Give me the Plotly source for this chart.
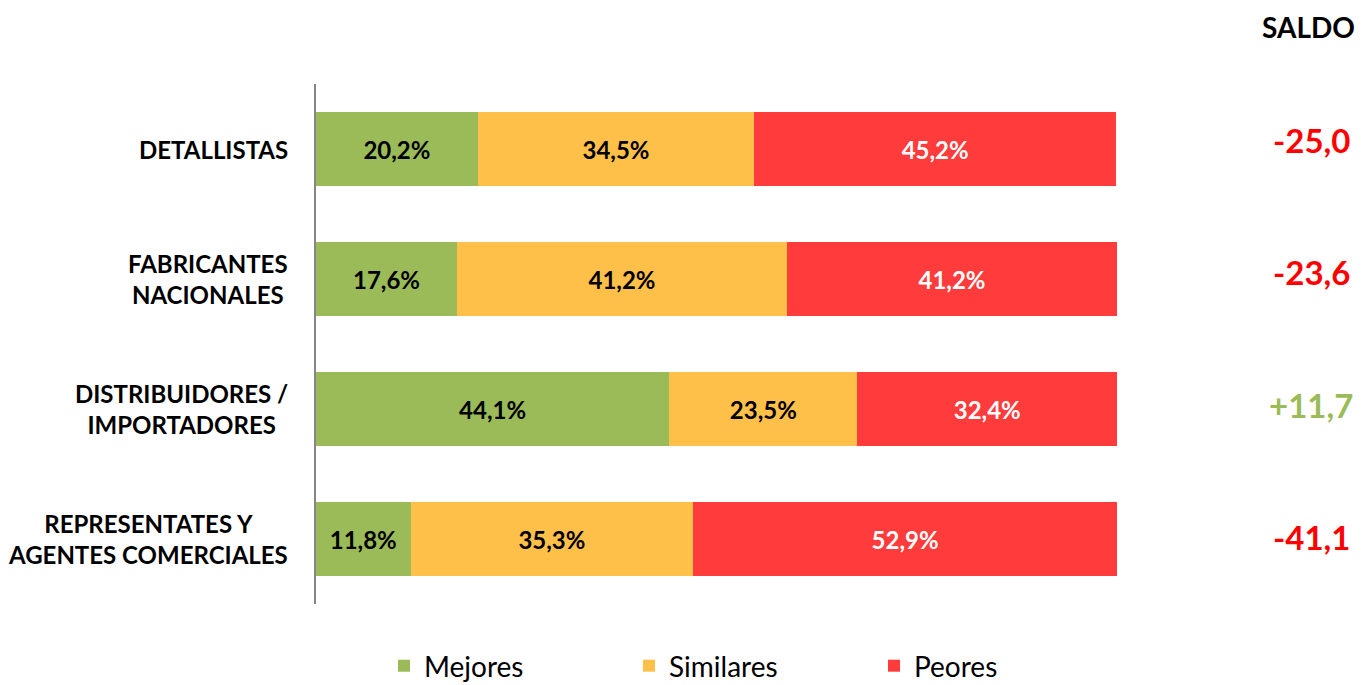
import plotly.graph_objects as go

categories = ["DETALLISTAS", "FABRICANTES<br>NACIONALES", "DISTRIBUIDORES /<br>IMPORTADORES",
              "REPRESENTATES Y<br>AGENTES COMERCIALES"]
cat_keys = ["DET", "FAB", "DIS", "REP"]
mejores = [20.2, 17.6, 44.1, 11.8]
similares = [34.5, 41.2, 23.5, 35.3]
peores = [45.2, 41.2, 32.4, 52.9]
saldo = ["-25,0", "-23,6", "+11,7", "-41,1"]
saldo_colors = ["#FF0000", "#FF0000", "#9BBB59", "#FF0000"]

FONT = "Lato"
W, H = 1362, 685

def fmt(v):
    return f"{v:.1f}".replace(".", ",") + "%"

series = [
    ("Mejores", mejores, "#9BBB59", "black"),
    ("Similares", similares, "#FFC04A", "black"),
    ("Peores", peores, "#FF3B3B", "white"),
]

fig = go.Figure()
for name, vals, col, tcol in series:
    fig.add_trace(go.Bar(
        name=name, y=cat_keys, x=vals, orientation="h",
        marker=dict(color=col, line=dict(width=0)),
        text=[fmt(v) for v in vals], textposition="inside",
        insidetextanchor="middle", textangle=0, constraintext="none",
        textfont=dict(family=FONT, size=24, color=tcol, weight="bold"),
        hoverinfo="skip",
    ))

plot_l, plot_r = 316, 1117
plot_t, plot_b = 84, 604
pw = plot_r - plot_l
ph = plot_b - plot_t

annotations = []
for k, lab in zip(cat_keys, categories):
    annotations.append(dict(
        x=-26 / pw, y=k, xref="paper", yref="y", text=f"<b>{lab}</b>",
        showarrow=False, xanchor="right", yanchor="middle", align="center",
        font=dict(family=FONT, size=24, color="black"),
    ))
saldo_shift = [9, 7, 4, 2]
for k, s, c, sh in zip(cat_keys, saldo, saldo_colors, saldo_shift):
    annotations.append(dict(
        x=(1311 - plot_l) / pw, y=k, xref="paper", yref="y", text=f"<b>{s}</b>",
        showarrow=False, xanchor="center", yanchor="middle", yshift=sh,
        font=dict(family=FONT, size=33, color=c),
    ))
annotations.append(dict(
    x=(1308 - plot_l) / pw, y=(plot_b - 27) / ph, xref="paper", yref="paper",
    text="<b>SALDO</b>", showarrow=False, xanchor="center", yanchor="middle",
    font=dict(family=FONT, size=28, color="black"),
))

fig.update_layout(
    width=W, height=H,
    barmode="stack", bargap=0.43,
    plot_bgcolor="white", paper_bgcolor="white",
    margin=dict(l=plot_l, r=W - plot_r, t=plot_t, b=H - plot_b),
    xaxis=dict(range=[0, 100], visible=False, showgrid=False, fixedrange=True),
    yaxis=dict(autorange="reversed", showticklabels=False, showgrid=False,
               showline=True, linecolor="#868686", linewidth=1.5, ticks="",
               zeroline=False, fixedrange=True),
    showlegend=True,
    legend=dict(orientation="h", xref="container", yref="container",
                x=(398 - 14) / W, xanchor="left",
                y=1 - 666 / H, yanchor="middle", entrywidth=200,
                font=dict(family=FONT, size=28, color="black"), traceorder="normal"),
    annotations=annotations,
    font=dict(family=FONT),
)

fig.write_html("out.html", config={"displayModeBar": False},
               post_script="document.body.style.margin='0px';")
